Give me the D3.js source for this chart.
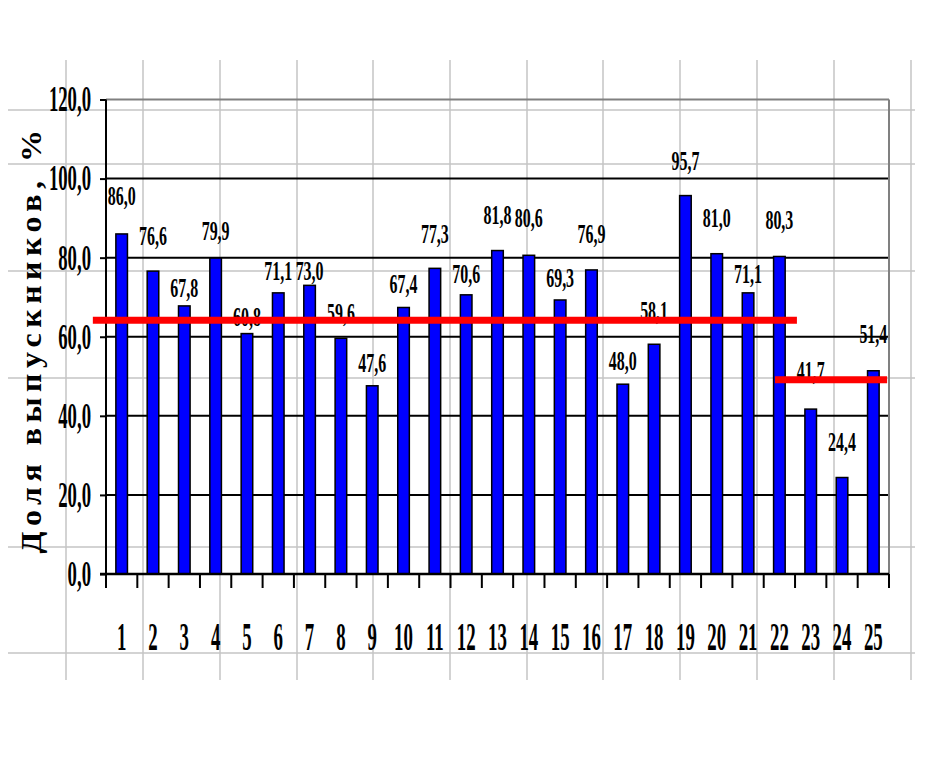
<!DOCTYPE html>
<html>
<head>
<meta charset="utf-8">
<script src="https://cdn.jsdelivr.net/npm/d3@7"></script>
<style>
  html, body { margin: 0; padding: 0; background: #fff; }
  svg { display: block; }
  text { font-family: "Liberation Serif", "Times New Roman", serif; font-weight: bold; fill: #000; }
</style>
</head>
<body>
<svg id="chart" width="937" height="768"></svg>
<script>
// ---------- data ----------
const categories = ["1","2","3","4","5","6","7","8","9","10","11","12","13","14","15","16","17","18","19","20","21","22","23","24","25"];
const values = [86.0, 76.6, 67.8, 79.9, 60.8, 71.1, 73.0, 59.6, 47.6, 67.4, 77.3, 70.6, 81.8, 80.6, 69.3, 76.9, 48.0, 58.1, 95.7, 81.0, 71.1, 80.3, 41.7, 24.4, 51.4];
const yTicks = [0, 20, 40, 60, 80, 100, 120];
// average levels (red lines): value and category span (in category-index units)
const avgValues = [64.2, 49.1];
const avgFrom = [0.08, 21.86];
const avgTo = [22.56, 25.44];
const yTitle = "Доля выпускников, %";

// ---------- layout (not data) ----------
const labelGap = [29,26,9,18,8,13,5,16,14,14,25,12,27,28,13,27,14,24,26,27,10,27,29,27,28];
const L = 106, R = 889, T = 99.5, B = 574;

const svg = d3.select("#chart");
const fmt = d3.formatLocale({decimal: ",", thousands: " ", grouping: [3], currency: ["", ""]}).format(".1f");

// spreadsheet background grid
const bg = svg.append("g").attr("stroke", "#c4c4c4").attr("stroke-width", 1.5);
[66, 143, 220, 297, 373, 450, 527, 603, 680, 757, 834, 911].forEach(x =>
  bg.append("line").attr("x1", x).attr("x2", x).attr("y1", 60).attr("y2", 680));
[110, 164, 271, 378, 547, 653].forEach(y =>
  bg.append("line").attr("x1", 8).attr("x2", 915).attr("y1", y).attr("y2", y));

const x = d3.scaleBand().domain(categories).range([L, R]).paddingInner(0.63).paddingOuter(0.315);
const xLin = d3.scaleLinear().domain([0.5, categories.length + 0.5]).range([L, R]);
const y = d3.scaleLinear().domain([0, 120]).range([B, T]);

// gridlines
const grid = svg.append("g");
grid.selectAll("line").data(yTicks.filter(t => t > 0)).join("line")
  .attr("x1", L).attr("x2", R)
  .attr("y1", d => y(d)).attr("y2", d => y(d))
  .attr("stroke", d => d === 120 ? "#808080" : "#000")
  .attr("stroke-width", 2);
// right border
svg.append("line").attr("x1", R).attr("x2", R).attr("y1", y(120)).attr("y2", B)
  .attr("stroke", "#808080").attr("stroke-width", 2);

// y axis
const yAxis = svg.append("g").attr("transform", `translate(${L},0)`)
  .call(d3.axisLeft(y).tickValues(yTicks).tickSize(6).tickFormat(""));
yAxis.select(".domain").attr("stroke", "#000").attr("stroke-width", 2).attr("d", `M0,${y(120)}V${B}`);
yAxis.selectAll(".tick line").attr("stroke", "#000").attr("stroke-width", 2);

yTicks.forEach(t => {
  svg.append("text")
    .attr("transform", `translate(91,${y(t)}) scale(0.52,1)`)
    .attr("text-anchor", "end").attr("dy", "0.33em")
    .style("font-size", "36px")
    .text(fmt(t));
});

// x axis ticks at band boundaries
const xAxisG = svg.append("g");
const bounds = d3.range(categories.length + 1).map(i => xLin(i + 0.5));
xAxisG.selectAll("line").data(bounds).join("line")
  .attr("x1", d => d).attr("x2", d => d).attr("y1", B).attr("y2", B + 14)
  .attr("stroke", "#000").attr("stroke-width", 2);

// bars
svg.append("g").selectAll("rect").data(values).join("rect")
  .attr("x", (d, i) => x(categories[i]))
  .attr("width", x.bandwidth())
  .attr("y", d => y(d))
  .attr("height", d => B - y(d))
  .attr("fill", "#0000ff").attr("stroke", "#000").attr("stroke-width", 1.5);

// x axis line
svg.append("line").attr("x1", L - 6).attr("x2", R).attr("y1", B).attr("y2", B)
  .attr("stroke", "#000").attr("stroke-width", 2.5);

// category labels
categories.forEach(c => {
  svg.append("text")
    .attr("transform", `translate(${x(c) + x.bandwidth() / 2},650) scale(0.46,1)`)
    .attr("text-anchor", "middle")
    .style("font-size", "41px")
    .text(c);
});

// data labels
values.forEach((v, i) => {
  svg.append("text")
    .attr("transform", `translate(${x(categories[i]) + x.bandwidth() / 2},${y(v) - labelGap[i]}) scale(0.57,1)`)
    .attr("text-anchor", "middle")
    .style("font-size", "28px")
    .text(fmt(v));
});

// average red lines
avgValues.forEach((v, i) => {
  svg.append("line")
    .attr("x1", xLin(avgFrom[i])).attr("x2", xLin(avgTo[i]))
    .attr("y1", y(v)).attr("y2", y(v))
    .attr("stroke", "#ff0000").attr("stroke-width", 7);
});

// y title
svg.append("text")
  .attr("transform", `translate(41,339) rotate(-90) scale(1,0.9)`)
  .attr("text-anchor", "middle")
  .style("font-size", "32px")
  .style("letter-spacing", "5.5px")
  .text(yTitle);
</script>
</body>
</html>
